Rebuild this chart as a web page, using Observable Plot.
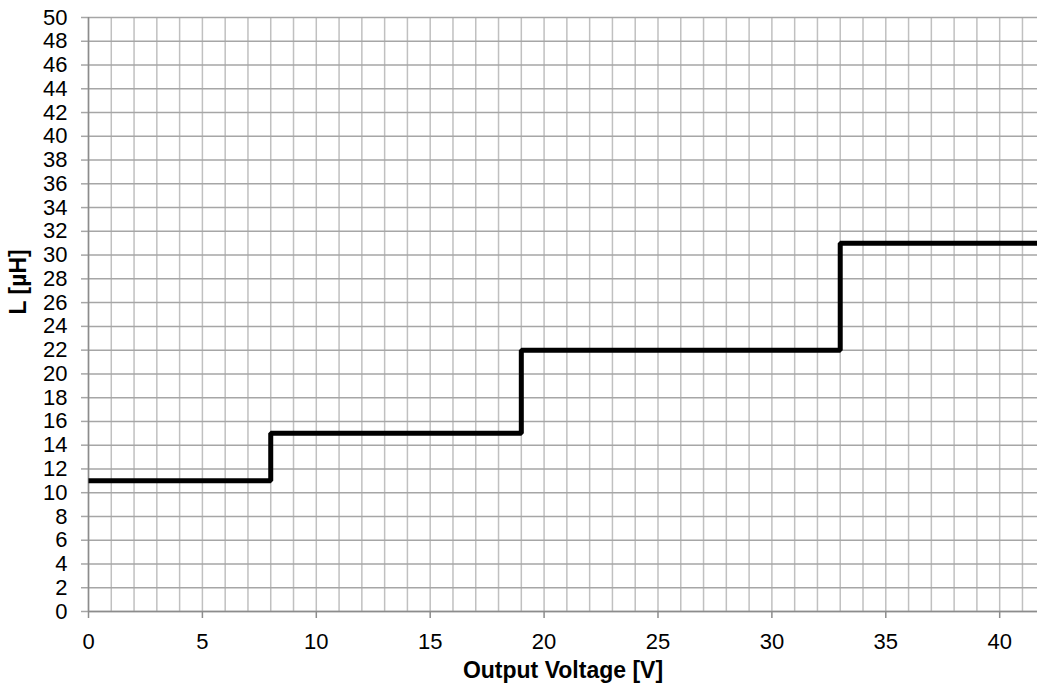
<!DOCTYPE html>
<html>
<head>
<meta charset="utf-8">
<script src="https://cdn.jsdelivr.net/npm/d3@7"></script>
<script src="https://cdn.jsdelivr.net/npm/@observablehq/plot@0.6"></script>
<style>
  html, body { margin: 0; padding: 0; background: #fff; }
  #chart svg { display: block; }
</style>
</head>
<body>
<div id="chart"></div>
<script>
// Step points: output voltage (V) where inductance changes, and L (µH)
const voltage = [0, 8, 19, 33, 41.66];
const inductance = [11, 15, 22, 31, 31];
const xDomain = [0, 41.66];
const yDomain = [0, 50];
const yTicks = d3.range(0, 51, 2);
const xMinorTicks = d3.range(0, 42, 1);
const xMajorTicks = [0, 5, 10, 15, 20, 25, 30, 35, 40];
const xLabel = "Output Voltage [V]";
const yLabel = "L [µH]";

const data = voltage.map((v, i) => ({v, L: inductance[i]}));

const chart = Plot.plot({
  width: 1037,
  height: 687,
  marginLeft: 88,
  marginRight: 0,
  marginTop: 17,
  marginBottom: 76,
  x: {domain: xDomain},
  y: {domain: yDomain},
  style: {fontFamily: "'Liberation Sans', Arial, sans-serif", fontSize: "22px", color: "#000", background: "#fff"},
  marks: [
    Plot.gridX(xMinorTicks, {stroke: "#c0c0c0", strokeOpacity: 1, strokeWidth: 1.5}),
    Plot.gridY(yTicks, {stroke: "#a6a6a6", strokeOpacity: 1, strokeWidth: 1.5}),
    Plot.axisY(yTicks, {tickSize: 7, tickPadding: 14, stroke: "#a6a6a6", strokeOpacity: 1, strokeWidth: 1.5, label: null, fontSize: 22, fill: "#000"}),
    Plot.axisX(xMajorTicks, {tickSize: 7, tickPadding: 15, stroke: "#8c8c8c", strokeOpacity: 1, strokeWidth: 1.5, label: null, fontSize: 22, fill: "#000"}),
    Plot.ruleX([0], {stroke: "#8c8c8c", strokeWidth: 1.5}),
    Plot.ruleY([0], {stroke: "#8c8c8c", strokeWidth: 1.5}),
    Plot.line(data, {x: "v", y: "L", curve: "step-after", stroke: "#000", strokeWidth: 5, strokeLinejoin: "miter", strokeLinecap: "butt"}),
    Plot.text([yLabel], {frameAnchor: "left", dx: -70, rotate: -90, fontWeight: "bold", fontSize: 23, fill: "#000"}),
    Plot.text([xLabel], {frameAnchor: "bottom", dy: 66, fontWeight: "bold", fontSize: 23, fill: "#000"})
  ]
});
document.getElementById("chart").append(chart);
</script>
</body>
</html>
